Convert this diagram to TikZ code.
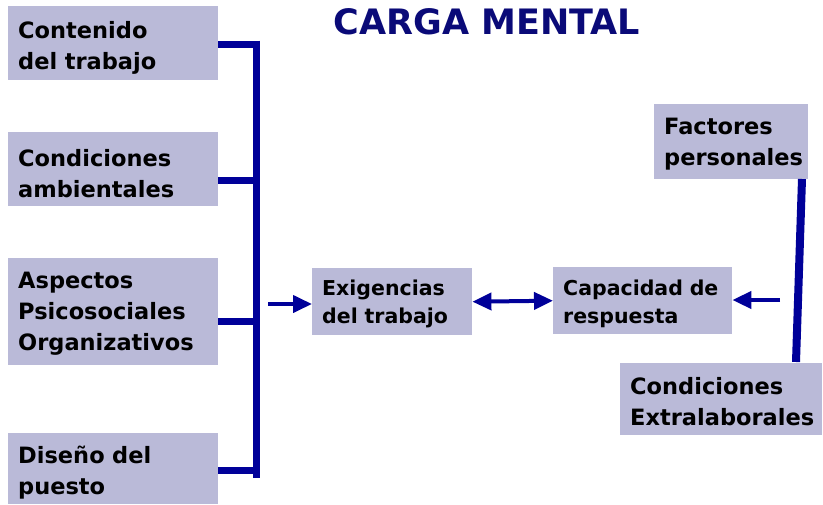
\documentclass[tikz,border=0pt]{standalone}
\usepackage{fontspec}
\setmainfont{DejaVu Sans}
\usetikzlibrary{arrows.meta,calc}
\definecolor{boxfill}{RGB}{186,186,216}
\definecolor{linec}{RGB}{0,0,153}
\definecolor{titlec}{RGB}{10,10,120}
\tikzset{
  bx/.style={fill=boxfill, draw=none, anchor=north west, align=left, inner xsep=10pt, inner ysep=0pt,
     font=\fontsize{22.5}{31}\selectfont\bfseries, text height=21pt},
  bxs/.style={bx, font=\fontsize{20.5}{28}\selectfont\bfseries, text height=21pt},
  thick line/.style={draw=linec, line width=7pt},
  arr/.style={draw=linec, line width=4pt, -{Triangle[length=19pt,width=17pt]}},
  darr/.style={draw=linec, line width=4pt, {Triangle[length=19pt,width=17pt]}-{Triangle[length=19pt,width=17pt]}},
}
\begin{document}
\begin{tikzpicture}[x=1pt,y=-1pt]
\useasboundingbox (0,0) rectangle (823,504);
\node[font=\fontsize{35}{40}\selectfont\bfseries, text=titlec, anchor=base] (title) at (487,34) {CARGA MENTAL};
% left boxes
\node[bx, text width=190pt, minimum height=74pt, text height=27pt] (c1) at (8,6) {Contenido\\del trabajo};
\node[bx, text width=190pt, minimum height=74pt, text height=26pt] (c2) at (8,132) {Condiciones\\ambientales};
\node[bx, text width=190pt, minimum height=107pt] (c3) at (8,258) {Aspectos\\Psicosociales\\Organizativos};
\node[bx, text width=190pt, minimum height=71pt, text height=26pt] (c4) at (8,433) {Diseño del\\puesto};
% middle boxes
\node[bxs, text width=140pt, minimum height=67pt] (ex) at (312,268) {Exigencias\\del trabajo};
\node[bxs, text width=159pt, minimum height=67pt] (cap) at (553,267) {Capacidad de\\respuesta};
% right boxes
\node[bx, text width=134pt, minimum height=75pt] (fp) at (654,104) {Factores\\personales};
\node[bx, text width=182pt, minimum height=72pt] (ce) at (620,363) {Condiciones\\Extralaborales};
% bracket
\coordinate (t1) at (256,44);
\coordinate (t2) at (256,180);
\coordinate (t3) at (256,321);
\coordinate (t4) at (256,470);
\coordinate (tb) at (256,478);
\draw[thick line] ($(t1)+(0,-3.5)$) -- (tb);
\draw[thick line] (c1.east |- t1) -- (t1);
\draw[thick line] (c2.east |- t2) -- (t2);
\draw[thick line] (c3.east |- t3) -- (t3);
\draw[thick line] (c4.east |- t4) -- (t4);
% arrows
\coordinate (a0) at (268,304);
\draw[arr] (a0) -- (ex.west |- a0);
\draw[darr] (ex.east) -- (cap.west);
\coordinate (a1) at (780,300);
\draw[arr] (a1) -- (cap.east |- a1);
% right line
\coordinate (r1) at (802,179);
\coordinate (r2) at (796,362);
\draw[draw=linec, line width=8pt] (r1) -- (r2);
\end{tikzpicture}
\end{document}
